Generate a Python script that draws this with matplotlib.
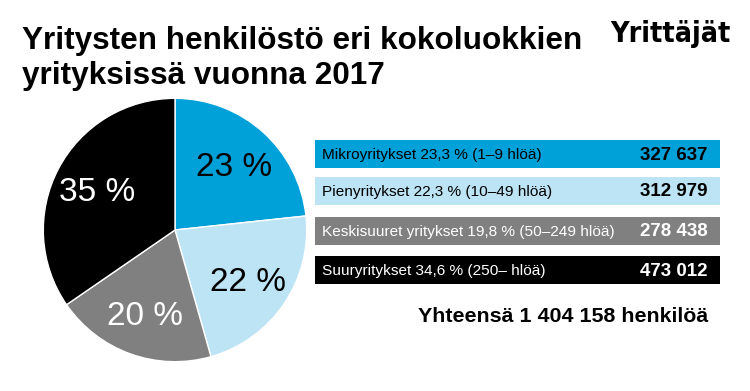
import matplotlib.pyplot as plt
from matplotlib.patches import Rectangle

plt.rcParams['font.family'] = ['Liberation Sans', 'DejaVu Sans']

categories = ["Mikroyritykset 23,3 % (1–9 hlöä)",
              "Pienyritykset 22,3 % (10–49 hlöä)",
              "Keskisuuret yritykset 19,8 % (50–249 hlöä)",
              "Suuryritykset 34,6 % (250– hlöä)"]
shares = [23.3, 22.3, 19.8, 34.6]
pie_labels = ["23 %", "22 %", "20 %", "35 %"]
employees = ["327 637", "312 979", "278 438", "473 012"]
colors = ["#00a0d8", "#bde4f5", "#808080", "#000000"]
text_colors = ["black", "black", "white", "white"]
total_text = "Yhteensä 1 404 158 henkilöä"


def main():
    fig = plt.figure(figsize=(7.5, 3.91), dpi=100)

    # pie
    ax = fig.add_axes([42 / 750, 1 - 363 / 391, 266 / 750, 266 / 391])
    wedges, texts = ax.pie(shares, colors=colors, startangle=90, counterclock=False,
                           labels=pie_labels, labeldistance=0.67,
                           wedgeprops=dict(edgecolor="white", linewidth=1))
    for t, c in zip(texts, text_colors):
        t.set_color(c)
        t.set_fontsize(24)
        t.set_ha("center")
        t.set_va("center_baseline")
    ax.set_xlim(-1.01, 1.01)
    ax.set_ylim(-1.01, 1.01)
    ax.set_aspect("equal")

    # title and logo
    fig.text(22 / 750, 1 - 41 / 391, "Yritysten henkilöstö eri kokoluokkien",
             fontsize=22.7, fontweight="bold", va="center", ha="left")
    fig.text(22 / 750, 1 - 76 / 391, "yrityksissä vuonna 2017",
             fontsize=22.7, fontweight="bold", va="center", ha="left")
    fig.text(670 / 750, 1 - 34 / 391, "Yrittäjät", fontsize=20.5, fontweight="heavy",
             fontstretch="condensed", va="center", ha="center", family=["DejaVu Sans"])

    # legend boxes
    lax = fig.add_axes([0, 0, 1, 1])
    lax.set_xlim(0, 750)
    lax.set_ylim(391, 0)
    lax.axis("off")
    tops = [140, 177, 217, 256]
    for i in range(len(categories)):
        lax.add_patch(Rectangle((315, tops[i]), 405, 28, facecolor=colors[i], edgecolor="none"))
        lax.text(322, tops[i] + 15, categories[i], fontsize=11.1, color=text_colors[i],
                 va="center", ha="left")
        lax.text(708, tops[i] + 15, employees[i], fontsize=13.5, fontweight="bold",
                 color=text_colors[i], va="center", ha="right")

    lax.text(563, 316, total_text, fontsize=15.4, fontweight="bold", va="center", ha="center")

    fig.savefig("out.png", dpi=100)


if __name__ == "__main__":
    main()
